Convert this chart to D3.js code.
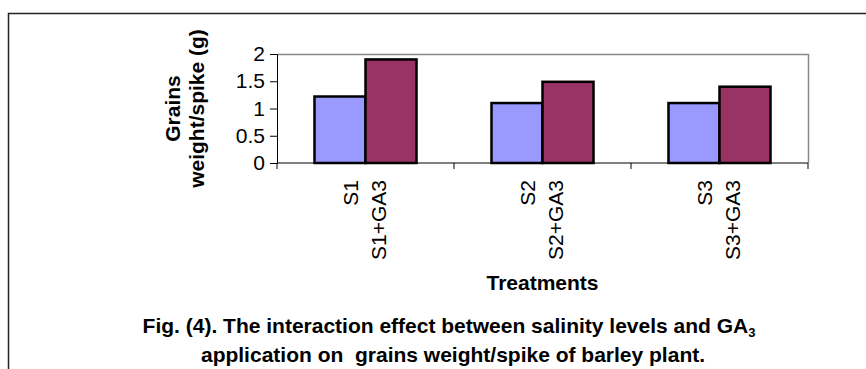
<!DOCTYPE html>
<html>
<head>
<meta charset="utf-8">
<script src="https://cdn.jsdelivr.net/npm/d3@7"></script>
<style>
  body { margin: 0; background: #fff; }
  text { font-family: Arial, "Liberation Sans", sans-serif; }
</style>
</head>
<body>
<script>
// data
var groups = ["S1", "S2", "S3"];
var tickLines = [["S1", "S1+GA3"], ["S2", "S2+GA3"], ["S3", "S3+GA3"]];
var salinity = [1.22, 1.10, 1.10];
var withGA3 = [1.90, 1.49, 1.40];
var yTicks = [0, 0.5, 1, 1.5, 2];

var svgWidth = 866, svgHeight = 369;
var plotLeft = 277, plotRight = 808, plotTop = 54, plotBottom = 163;

var svg = d3.select("body").append("svg")
    .attr("width", svgWidth)
    .attr("height", svgHeight);

// outer frame (top + left edge)
svg.append("path")
   .attr("d", "M8.5,369 V13.5 H866")
   .attr("fill", "none")
   .attr("stroke", "#222")
   .attr("stroke-width", 1.5);

var xScale = d3.scaleBand()
    .domain(groups)
    .range([plotLeft, plotRight])
    .paddingInner(0)
    .paddingOuter(0);

var inner = d3.scaleBand()
    .domain(["a", "b"])
    .range([0, xScale.bandwidth()])
    .paddingInner(0)
    .paddingOuter(0.735);

var yScale = d3.scaleLinear()
    .domain([0, 2])
    .range([plotBottom, plotTop]);

// plot border (grey top/right)
svg.append("path")
   .attr("d", "M" + plotLeft + "," + (plotTop + 0.5) + " H" + (plotRight + 0.5) + " V" + plotBottom)
   .attr("fill", "none")
   .attr("stroke", "#888")
   .attr("stroke-width", 1.5);

var bars = [];
groups.forEach(function(g, i) {
  bars.push({g: g, s: "a", v: salinity[i], c: "#9999FF"});
  bars.push({g: g, s: "b", v: withGA3[i], c: "#993366"});
});

svg.selectAll("rect.bar")
   .data(bars)
   .enter()
   .append("rect")
   .attr("class", "bar")
   .attr("x", d => xScale(d.g) + inner(d.s))
   .attr("y", d => yScale(d.v))
   .attr("width", inner.bandwidth())
   .attr("height", d => plotBottom - yScale(d.v))
   .attr("fill", d => d.c)
   .attr("stroke", "#000")
   .attr("stroke-width", 2.5);

// Y axis
var yAxis = d3.axisLeft(yScale)
    .tickValues(yTicks)
    .tickFormat(d3.format("~g"))
    .tickSize(7)
    .tickPadding(5);

var yg = svg.append("g")
    .attr("transform", "translate(" + plotLeft + ",0)")
    .call(yAxis);
yg.select(".domain").attr("stroke", "#000");
yg.selectAll("text").attr("font-size", 21).attr("fill", "#000")
  .attr("font-family", "Arial, 'Liberation Sans', sans-serif");

// X axis (ticks at group boundaries)
var xg = svg.append("g").attr("transform", "translate(0," + plotBottom + ")");
xg.append("line")
  .attr("x1", plotLeft).attr("x2", plotRight)
  .attr("stroke", "#000");
var bounds = groups.map(g => xScale(g)).concat([plotRight]);
xg.selectAll("line.tick")
  .data(bounds)
  .enter()
  .append("line")
  .attr("class", "tick")
  .attr("x1", d => d).attr("x2", d => d)
  .attr("y1", 0).attr("y2", 6)
  .attr("stroke", "#000");

// rotated category labels
groups.forEach(function(g, i) {
  var cx = xScale(g) + xScale.bandwidth() / 2;
  var t = svg.append("text")
     .attr("transform", "translate(" + cx + "," + 180 + ") rotate(-90)")
     .attr("text-anchor", "end")
     .attr("font-size", 21);
  tickLines[i].forEach(function(line, j) {
    t.append("tspan")
     .attr("x", 0)
     .attr("y", j === 0 ? -8 : 20)
     .text(line);
  });
});

// axis titles
svg.append("text")
   .attr("x", (plotLeft + plotRight) / 2)
   .attr("y", 290)
   .attr("text-anchor", "middle")
   .attr("font-size", 21)
   .attr("font-weight", "bold")
   .text("Treatments");

var yt = svg.append("text")
   .attr("transform", "translate(0," + ((plotTop + plotBottom) / 2) + ") rotate(-90)")
   .attr("text-anchor", "middle")
   .attr("font-size", 21)
   .attr("font-weight", "bold");
yt.append("tspan").attr("x", 0).attr("y", 180).text("Grains");
yt.append("tspan").attr("x", 0).attr("y", 204).text("weight/spike (g)");

// caption
var cap1 = svg.append("text")
   .attr("x", 449)
   .attr("y", 333)
   .attr("text-anchor", "middle")
   .attr("font-size", 21)
   .attr("font-weight", "bold");
cap1.append("tspan").text("Fig. (4). The interaction effect between salinity levels and GA");
cap1.append("tspan").attr("font-size", 13).attr("dy", 4).text("3");

svg.append("text")
   .attr("x", 453)
   .attr("y", 362)
   .attr("text-anchor", "middle")
   .attr("font-size", 21)
   .attr("font-weight", "bold")
   .style("white-space", "pre")
   .text("application on  grains weight/spike of barley plant.");
</script>
</body>
</html>
